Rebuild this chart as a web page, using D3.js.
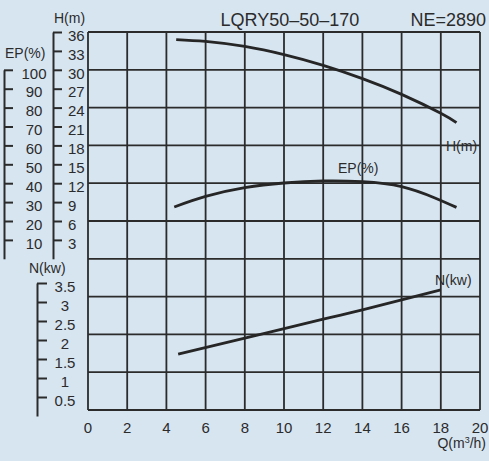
<!DOCTYPE html>
<meta charset="utf-8">
<style>
body { margin: 0; background: #d7e5f1; }
svg { display: block; font-family: "Liberation Sans", Arial, sans-serif; }
.grid line { stroke: #2b2b2b; stroke-width: 1.8; }
.axis path, .axis line { stroke: #2b2b2b; stroke-width: 2; }
.axis text { fill: #2b2b2b; font-size: 15px; }
.curve { fill: none; stroke: #262626; stroke-width: 2.8; }
.lbl { fill: #2b2b2b; font-size: 14px; }
</style>
<body>
<svg width="489" height="461"></svg>
<script src="https://cdn.jsdelivr.net/npm/d3@7"></script>
<script>
// values
var qTicks  = [0, 2, 4, 6, 8, 10, 12, 14, 16, 18, 20];
var hTicks  = [3, 6, 9, 12, 15, 18, 21, 24, 27, 30, 33, 36];
var epTicks = [10, 20, 30, 40, 50, 60, 70, 80, 90, 100];
var nTicks  = [0.5, 1, 1.5, 2, 2.5, 3, 3.5];

var hQ = [4.5, 6, 8, 10, 12, 14, 16, 18, 18.8];
var hV = [34.8, 34.5, 33.7, 32.4, 30.7, 28.6, 26.1, 23.1, 21.6];

var epQ = [4.4, 6, 8, 10, 12, 14, 16, 17.7, 18.8];
var epV = [27.4, 33.0, 37.6, 40.1, 41.2, 40.8, 38.2, 32.2, 27.2];

var nQ = [4.6, 8, 12, 14, 18];
var nV = [1.63, 2.05, 2.55, 2.79, 3.32];

var svg = d3.select("svg");

var x = d3.scaleLinear().domain([0, 20]).range([88, 480]);
// grid rows share the head scale, extended down below zero
var yGrid = d3.scaleLinear().domain([-24, 36]).range([410, 32]);
var yH = d3.scaleLinear().domain([0, 36]).range([yGrid(0), yGrid(36)]);
var yEP = d3.scaleLinear().domain([0, 100]).range([yGrid(0), yGrid(30)]);
var yN = d3.scaleLinear().domain([0, 3.5]).range([416, 283]);

var grid = svg.append("g").attr("class", "grid");
grid.selectAll(".v").data(qTicks).enter().append("line")
    .attr("x1", function(d) { return x(d); })
    .attr("x2", function(d) { return x(d); })
    .attr("y1", yGrid(36)).attr("y2", yGrid(-24));
grid.selectAll(".h").data(d3.range(-24, 37, 6)).enter().append("line")
    .attr("x1", x(0)).attr("x2", x(20))
    .attr("y1", function(d) { return yGrid(d); })
    .attr("y2", function(d) { return yGrid(d); });

// H axis
var gH = svg.append("g").attr("class", "axis")
    .attr("transform", "translate(53,0)")
    .call(d3.axisRight(yH).tickValues(hTicks).tickSize(9).tickPadding(6).tickSizeOuter(0));
gH.selectAll("text").attr("dy", "0.55em");

// EP axis
var gEP = svg.append("g").attr("class", "axis")
    .attr("transform", "translate(4,0)")
    .call(d3.axisRight(yEP).tickValues(epTicks).tickSize(9).tickSizeOuter(0));
gEP.selectAll("text").attr("text-anchor", "middle").attr("x", 30).attr("dy", "0.55em");

// N axis
var gN = svg.append("g").attr("class", "axis")
    .attr("transform", "translate(37,0)")
    .call(d3.axisRight(yN).tickValues(nTicks).tickSize(10).tickSizeOuter(0)
      .tickFormat(function(d) { return String(d); }));
gN.selectAll("text").attr("text-anchor", "middle").attr("x", 28).attr("dy", "0.55em");

// Q axis labels
svg.append("g").selectAll("text").data(qTicks).enter().append("text")
    .attr("class", "lbl")
    .attr("x", function(d) { return x(d); })
    .attr("y", 433)
    .attr("text-anchor", "middle")
    .style("font-size", "15px")
    .text(function(d) { return d; });

var line = d3.line().curve(d3.curveNatural);
function pts(qs, vs, sy) { return qs.map(function(q, i) { return [x(q), sy(vs[i])]; }); }

svg.append("path").attr("class", "curve").attr("d", line(pts(hQ, hV, yH)));
svg.append("path").attr("class", "curve").attr("d", line(pts(epQ, epV, yEP)));
svg.append("path").attr("class", "curve").attr("d", line(pts(nQ, nV, yN)));

function label(tx, ty, t, size, anchor) {
  return svg.append("text").attr("class", "lbl")
    .attr("x", tx).attr("y", ty)
    .attr("text-anchor", anchor || "start")
    .style("font-size", (size || 14) + "px")
    .text(t);
}
label(54, 23, "H(m)");
label(5, 58, "EP(%)");
label(29, 273, "N(kw)");
label(446, 151, "H(m)");
label(338, 173, "EP(%)");
label(435, 285, "N(kw)");
label(290, 26, "LQRY50\u201350\u2013170", 18, "middle");
label(486, 26, "NE=2890", 18, "end");
var q = label(486, 448, "", 14, "end");
q.append("tspan").text("Q(m");
q.append("tspan").attr("dy", -5).style("font-size", "9px").text("3");
q.append("tspan").attr("dy", 5).text("/h)");
</script>
</body>
